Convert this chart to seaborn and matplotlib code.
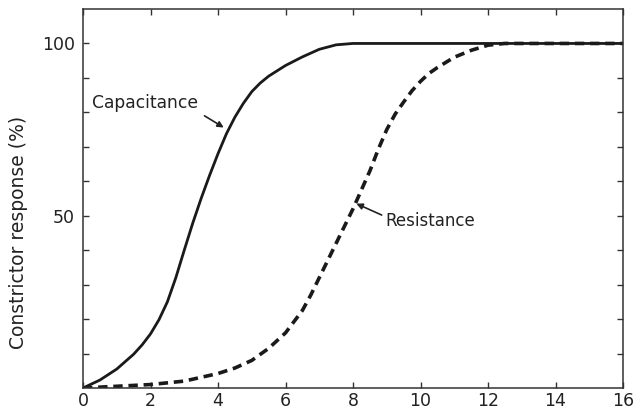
import numpy as np
import pandas as pd
import matplotlib
matplotlib.use("Agg")
import matplotlib.pyplot as plt
import seaborn as sns

# Data
cap_x = [0, 0.5, 1, 1.5, 1.75, 2, 2.25, 2.5, 2.75, 3, 3.25, 3.5, 3.75, 4, 4.25, 4.5,
         4.75, 5, 5.25, 5.5, 6, 6.5, 7, 7.5, 8, 10, 12, 14, 16]
capacitance = [0, 2.3, 5.5, 9.8, 12.5, 15.7, 19.8, 25, 32, 40, 47.8, 55, 61.7, 68, 73.8, 78.6,
               82.6, 86, 88.5, 90.5, 93.6, 96.1, 98.3, 99.6, 100, 100, 100, 100, 100]
res_x = [0, 1, 2, 3, 4, 4.5, 5, 5.5, 6, 6.5, 6.75, 7, 7.25, 7.5, 7.75, 8, 8.25, 8.5,
         8.75, 9, 9.25, 9.5, 9.75, 10, 10.25, 10.5, 11, 11.5, 12, 12.5, 14, 16]
resistance = [0, 0.5, 1, 2, 4.2, 5.8, 8, 11.5, 16, 22.5, 27, 32, 37, 42, 47, 52, 57.5, 63,
              69.3, 75, 79.5, 83, 86.3, 89, 91.3, 93, 96, 98, 99.5, 100, 100, 100]
x_ticks = [0, 2, 4, 6, 8, 10, 12, 14, 16]
y_tick_labels = {50: "50", 100: "100"}
y_label = "Constrictor response (%)"

cap_df = pd.DataFrame({"time": cap_x, "response": capacitance})
res_df = pd.DataFrame({"time": res_x, "response": resistance})

sns.set_style("ticks")
plt.rcParams["font.family"] = ["DejaVu Sans"]

fig = plt.figure(figsize=(6.33, 4.13), dpi=100)
ax = fig.add_axes([83 / 633, 1 - 388 / 413, 540 / 633, 379 / 413])

sns.lineplot(data=cap_df, x="time", y="response", color="#1a1a1a",
             linewidth=2.0, ax=ax, legend=False)
sns.lineplot(data=res_df, x="time", y="response", color="#1a1a1a",
             linewidth=2.6, ax=ax, legend=False)
ax.lines[1].set_dashes([2.6, 1.6])
for ln in ax.lines:
    ln.set_solid_joinstyle("round")
    ln.set_dash_capstyle("butt")

ax.set_xlim(0, 16)
ax.set_ylim(0, 110)
ax.set_xticks(x_ticks)
ax.set_xticklabels([str(v) for v in x_ticks])
yt = list(range(10, 110, 10))
ax.set_yticks(yt)
ax.set_yticklabels([y_tick_labels.get(v, "") for v in yt])

ax.tick_params(axis="both", direction="in", length=4, width=1, color="#333333",
               labelsize=12.5, labelcolor="#222222", top=True, right=True)
ax.tick_params(axis="x", pad=3)
ax.tick_params(axis="y", pad=6)
for s in ax.spines.values():
    s.set_color("#333333")
    s.set_linewidth(1.1)

ax.set_xlabel("")
ax.set_ylabel(y_label, fontsize=13.5, color="#222222")
ax.yaxis.set_label_coords(-0.102, 0.41)

ax.annotate("Capacitance", xy=(4.15, 75.9), xytext=(0.27, 82.8),
            fontsize=12.3, color="#222222", va="center", ha="left")
ax.annotate("", xy=(4.17, 75.6), xytext=(3.6, 79),
            arrowprops=dict(arrowstyle="-|>", color="#222222", lw=1.2,
                            mutation_scale=9, shrinkA=0, shrinkB=0))
ax.annotate("Resistance", xy=(8.1, 53), xytext=(8.95, 48.5),
            fontsize=12, color="#222222", va="center", ha="left")
ax.annotate("", xy=(8.1, 53.5), xytext=(8.85, 50.2),
            arrowprops=dict(arrowstyle="-|>", color="#222222", lw=1.2,
                            mutation_scale=9, shrinkA=0, shrinkB=0))

fig.savefig("out.png", dpi=100)
